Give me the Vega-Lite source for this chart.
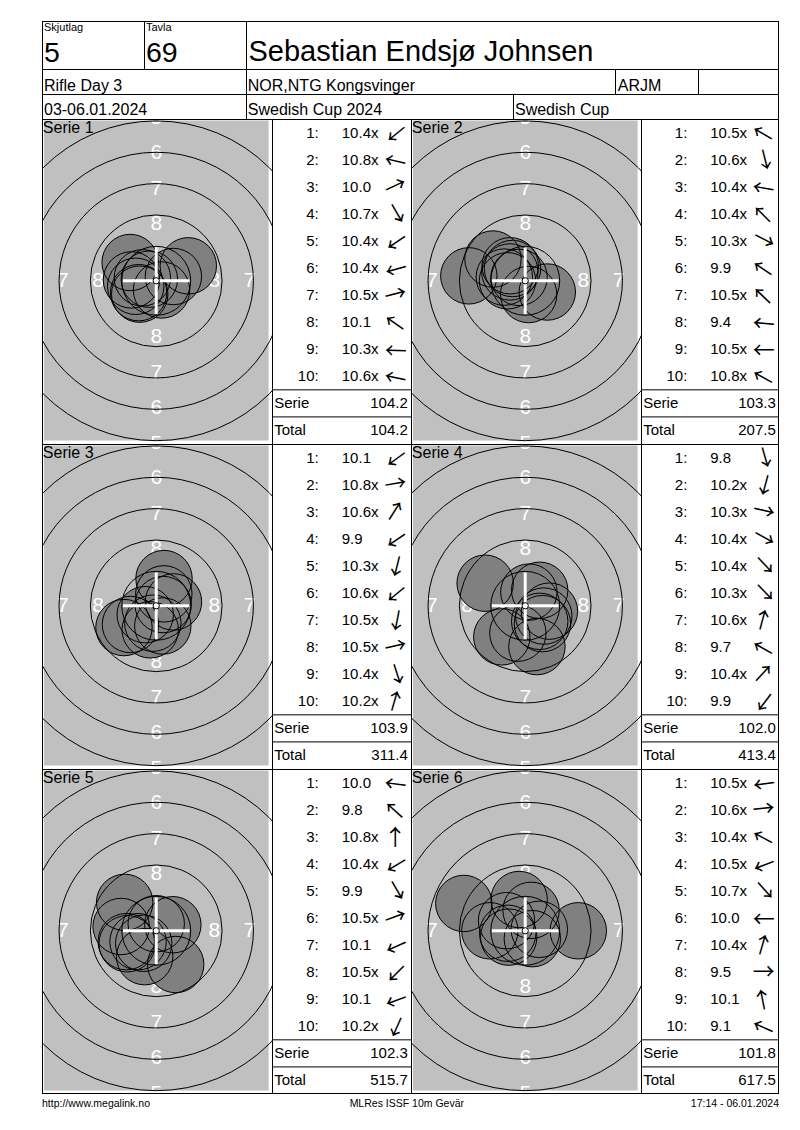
{
"$schema":"https://vega.github.io/schema/vega-lite/v6.json",
"description":"Result card: six series of ten shots on a 10m air rifle target, each with its shot table",
"background":"white",
"padding":{"left":42,"top":21,"right":0,"bottom":0},
"spacing":0,
"config":{"font":"Liberation Sans","view":{"stroke":null},"text":{"color":"black"}},
"datasets":{
"shots":[
{"series":1,"n":1,"score":10.4,"dir":219,"x":-1.166,"y":-0.944},
{"series":1,"n":2,"score":10.8,"dir":167,"x":-0.487,"y":0.112},
{"series":1,"n":3,"score":10.0,"dir":25,"x":2.266,"y":1.057},
{"series":1,"n":4,"score":10.7,"dir":300,"x":0.375,"y":-0.65},
{"series":1,"n":5,"score":10.4,"dir":214,"x":-1.244,"y":-0.839},
{"series":1,"n":6,"score":10.4,"dir":195,"x":-1.449,"y":-0.388},
{"series":1,"n":7,"score":10.5,"dir":14,"x":1.213,"y":0.302},
{"series":1,"n":8,"score":10.1,"dir":145,"x":-1.843,"y":1.291},
{"series":1,"n":9,"score":10.3,"dir":178,"x":-1.749,"y":0.061},
{"series":1,"n":10,"score":10.6,"dir":168,"x":-0.978,"y":0.208},
{"series":2,"n":1,"score":10.5,"dir":150,"x":-1.083,"y":0.625},
{"series":2,"n":2,"score":10.6,"dir":284,"x":0.242,"y":-0.97},
{"series":2,"n":3,"score":10.4,"dir":170,"x":-1.477,"y":0.26},
{"series":2,"n":4,"score":10.4,"dir":135,"x":-1.061,"y":1.061},
{"series":2,"n":5,"score":10.3,"dir":333,"x":1.559,"y":-0.794},
{"series":2,"n":6,"score":9.9,"dir":146,"x":-2.28,"y":1.538},
{"series":2,"n":7,"score":10.5,"dir":136,"x":-0.899,"y":0.868},
{"series":2,"n":8,"score":9.4,"dir":175,"x":-3.985,"y":0.349},
{"series":2,"n":9,"score":10.5,"dir":180,"x":-1.25,"y":0},
{"series":2,"n":10,"score":10.8,"dir":151,"x":-0.437,"y":0.242},
{"series":3,"n":1,"score":10.1,"dir":216,"x":-1.82,"y":-1.323},
{"series":3,"n":2,"score":10.8,"dir":10,"x":0.492,"y":0.087},
{"series":3,"n":3,"score":10.6,"dir":57.5,"x":0.537,"y":0.843},
{"series":3,"n":4,"score":9.9,"dir":214,"x":-2.28,"y":-1.538},
{"series":3,"n":5,"score":10.3,"dir":256,"x":-0.423,"y":-1.698},
{"series":3,"n":6,"score":10.6,"dir":219,"x":-0.777,"y":-0.629},
{"series":3,"n":7,"score":10.5,"dir":259,"x":-0.239,"y":-1.227},
{"series":3,"n":8,"score":10.5,"dir":12.6,"x":1.22,"y":0.273},
{"series":3,"n":9,"score":10.4,"dir":288,"x":0.464,"y":-1.427},
{"series":3,"n":10,"score":10.2,"dir":74,"x":0.551,"y":1.923},
{"series":4,"n":1,"score":9.8,"dir":286,"x":0.827,"y":-2.884},
{"series":4,"n":2,"score":10.2,"dir":255,"x":-0.518,"y":-1.932},
{"series":4,"n":3,"score":10.3,"dir":347.5,"x":1.709,"y":-0.379},
{"series":4,"n":4,"score":10.4,"dir":331,"x":1.312,"y":-0.727},
{"series":4,"n":5,"score":10.4,"dir":313,"x":1.023,"y":-1.097},
{"series":4,"n":6,"score":10.3,"dir":314,"x":1.216,"y":-1.259},
{"series":4,"n":7,"score":10.6,"dir":75,"x":0.259,"y":0.966},
{"series":4,"n":8,"score":9.7,"dir":150.6,"x":-2.831,"y":1.596},
{"series":4,"n":9,"score":10.4,"dir":47,"x":1.023,"y":1.097},
{"series":4,"n":10,"score":9.9,"dir":233,"x":-1.655,"y":-2.196},
{"series":5,"n":1,"score":10.0,"dir":173,"x":-2.481,"y":0.305},
{"series":5,"n":2,"score":9.8,"dir":138,"x":-2.229,"y":2.007},
{"series":5,"n":3,"score":10.8,"dir":90,"x":0,"y":0.5},
{"series":5,"n":4,"score":10.4,"dir":211,"x":-1.286,"y":-0.773},
{"series":5,"n":5,"score":9.9,"dir":300,"x":1.375,"y":-2.382},
{"series":5,"n":6,"score":10.5,"dir":20,"x":1.175,"y":0.428},
{"series":5,"n":7,"score":10.1,"dir":204,"x":-2.055,"y":-0.915},
{"series":5,"n":8,"score":10.5,"dir":225,"x":-0.884,"y":-0.884},
{"series":5,"n":9,"score":10.1,"dir":200,"x":-2.114,"y":-0.77},
{"series":5,"n":10,"score":10.2,"dir":246,"x":-0.813,"y":-1.827},
{"series":6,"n":1,"score":10.5,"dir":188,"x":-1.238,"y":-0.174},
{"series":6,"n":2,"score":10.6,"dir":6,"x":0.995,"y":0.105},
{"series":6,"n":3,"score":10.4,"dir":151.6,"x":-1.32,"y":0.714},
{"series":6,"n":4,"score":10.5,"dir":201,"x":-1.167,"y":-0.448},
{"series":6,"n":5,"score":10.7,"dir":312,"x":0.502,"y":-0.557},
{"series":6,"n":6,"score":10.0,"dir":180,"x":-2.5,"y":0},
{"series":6,"n":7,"score":10.4,"dir":74,"x":0.413,"y":1.442},
{"series":6,"n":8,"score":9.5,"dir":0,"x":3.75,"y":0},
{"series":6,"n":9,"score":10.1,"dir":101,"x":-0.429,"y":2.209},
{"series":6,"n":10,"score":9.1,"dir":156,"x":-4.339,"y":1.932}
],
"rings":[{"ring":9,"r":2.75},{"ring":8,"r":5.25},{"ring":7,"r":7.75},{"ring":6,"r":10.25},{"ring":5,"r":12.75}],
"ringLabels":[
{"label":"8","x":0,"y":4},{"label":"7","x":0,"y":6.5},{"label":"6","x":0,"y":9},{"label":"5","x":0,"y":11.5},
{"label":"8","x":0,"y":-4},{"label":"7","x":0,"y":-6.5},{"label":"6","x":0,"y":-9},{"label":"5","x":0,"y":-11.5},
{"label":"8","x":-4.1,"y":0},{"label":"7","x":-6.6,"y":0},{"label":"8","x":4.1,"y":0},{"label":"7","x":6.6,"y":0}
],
"series":[{"series":1,"title":"Serie 1"},{"series":2,"title":"Serie 2"},{"series":3,"title":"Serie 3"},{"series":4,"title":"Serie 4"},{"series":5,"title":"Serie 5"},{"series":6,"title":"Serie 6"}],
"totals":[
{"series":1,"row":"Serie","value":104.2},{"series":1,"row":"Total","value":104.2},
{"series":2,"row":"Serie","value":103.3},{"series":2,"row":"Total","value":207.5},
{"series":3,"row":"Serie","value":103.9},{"series":3,"row":"Total","value":311.4},
{"series":4,"row":"Serie","value":102.0},{"series":4,"row":"Total","value":413.4},
{"series":5,"row":"Serie","value":102.3},{"series":5,"row":"Total","value":515.7},
{"series":6,"row":"Serie","value":101.8},{"series":6,"row":"Total","value":617.5}
]
},
"vconcat":[
{"hconcat":[
 {"width":102,"height":48,"data":{"values":[{"caption":"Skjutlag","value":"5"}]},"layer":[
  {"mark":{"type":"text","align":"left","baseline":"alphabetic","fontSize":11,"clip":true},"encoding":{"x":{"datum":0.0196,"type":"quantitative","scale":{"domain":[0,1],"nice":false},"axis":null},"y":{"datum":0.215,"type":"quantitative","scale":{"domain":[0,1],"nice":false,"reverse":true},"axis":null},"text":{"field":"caption"}}},
  {"mark":{"type":"text","align":"left","baseline":"alphabetic","fontSize":28.5,"clip":true},"encoding":{"x":{"datum":0.0196,"type":"quantitative","scale":{"domain":[0,1],"nice":false},"axis":null},"y":{"datum":0.85,"type":"quantitative","scale":{"domain":[0,1],"nice":false,"reverse":true},"axis":null},"text":{"field":"value"}}},
  {"mark":{"type":"rule","color":"black","strokeWidth":2,"clip":true},"encoding":{"x":{"datum":0,"type":"quantitative","scale":{"domain":[0,1],"nice":false},"axis":null}}},
  {"mark":{"type":"rule","color":"black","strokeWidth":2,"clip":true},"encoding":{"y":{"datum":0,"type":"quantitative","scale":{"domain":[0,1],"nice":false,"reverse":true},"axis":null}}}
 ]},
 {"width":102,"height":48,"data":{"values":[{"caption":"Tavla","value":"69"}]},"layer":[
  {"mark":{"type":"text","align":"left","baseline":"alphabetic","fontSize":11,"clip":true},"encoding":{"x":{"datum":0.0196,"type":"quantitative","scale":{"domain":[0,1],"nice":false},"axis":null},"y":{"datum":0.215,"type":"quantitative","scale":{"domain":[0,1],"nice":false,"reverse":true},"axis":null},"text":{"field":"caption"}}},
  {"mark":{"type":"text","align":"left","baseline":"alphabetic","fontSize":28.5,"clip":true},"encoding":{"x":{"datum":0.0196,"type":"quantitative","scale":{"domain":[0,1],"nice":false},"axis":null},"y":{"datum":0.85,"type":"quantitative","scale":{"domain":[0,1],"nice":false,"reverse":true},"axis":null},"text":{"field":"value"}}},
  {"mark":{"type":"rule","color":"black","strokeWidth":2,"clip":true},"encoding":{"x":{"datum":0,"type":"quantitative","scale":{"domain":[0,1],"nice":false},"axis":null}}},
  {"mark":{"type":"rule","color":"black","strokeWidth":2,"clip":true},"encoding":{"y":{"datum":0,"type":"quantitative","scale":{"domain":[0,1],"nice":false,"reverse":true},"axis":null}}}
 ]},
 {"width":533,"height":48,"data":{"values":[{"value":"Sebastian Endsjø Johnsen"}]},"layer":[
  {"mark":{"type":"text","align":"left","baseline":"alphabetic","fontSize":29,"clip":true},"encoding":{"x":{"datum":0.0047,"type":"quantitative","scale":{"domain":[0,1],"nice":false},"axis":null},"y":{"datum":0.84,"type":"quantitative","scale":{"domain":[0,1],"nice":false,"reverse":true},"axis":null},"text":{"field":"value"}}},
  {"mark":{"type":"rule","color":"black","strokeWidth":2,"clip":true},"encoding":{"x":{"datum":0,"type":"quantitative","scale":{"domain":[0,1],"nice":false},"axis":null}}},
  {"mark":{"type":"rule","color":"black","strokeWidth":2,"clip":true},"encoding":{"x":{"datum":1,"type":"quantitative","scale":{"domain":[0,1],"nice":false},"axis":null}}},
  {"mark":{"type":"rule","color":"black","strokeWidth":2,"clip":true},"encoding":{"y":{"datum":0,"type":"quantitative","scale":{"domain":[0,1],"nice":false,"reverse":true},"axis":null}}}
 ]}
],"spacing":0,"bounds":"flush"},
{"hconcat":[
 {"width":204,"height":25,"data":{"values":[{"value":"Rifle Day 3"}]},"layer":[
  {"mark":{"type":"text","align":"left","baseline":"alphabetic","fontSize":16,"clip":true},"encoding":{"x":{"datum":0.0098,"type":"quantitative","scale":{"domain":[0,1],"nice":false},"axis":null},"y":{"datum":0.86,"type":"quantitative","scale":{"domain":[0,1],"nice":false,"reverse":true},"axis":null},"text":{"field":"value"}}},
  {"mark":{"type":"rule","color":"black","strokeWidth":2,"clip":true},"encoding":{"x":{"datum":0,"type":"quantitative","scale":{"domain":[0,1],"nice":false},"axis":null}}},
  {"mark":{"type":"rule","color":"black","strokeWidth":2,"clip":true},"encoding":{"y":{"datum":0,"type":"quantitative","scale":{"domain":[0,1],"nice":false,"reverse":true},"axis":null}}}
 ]},
 {"width":369,"height":25,"data":{"values":[{"value":"NOR,NTG Kongsvinger"}]},"layer":[
  {"mark":{"type":"text","align":"left","baseline":"alphabetic","fontSize":16,"clip":true},"encoding":{"x":{"datum":0.0049,"type":"quantitative","scale":{"domain":[0,1],"nice":false},"axis":null},"y":{"datum":0.86,"type":"quantitative","scale":{"domain":[0,1],"nice":false,"reverse":true},"axis":null},"text":{"field":"value"}}},
  {"mark":{"type":"rule","color":"black","strokeWidth":2,"clip":true},"encoding":{"x":{"datum":0,"type":"quantitative","scale":{"domain":[0,1],"nice":false},"axis":null}}},
  {"mark":{"type":"rule","color":"black","strokeWidth":2,"clip":true},"encoding":{"y":{"datum":0,"type":"quantitative","scale":{"domain":[0,1],"nice":false,"reverse":true},"axis":null}}}
 ]},
 {"width":83,"height":25,"data":{"values":[{"value":"ARJM"}]},"layer":[
  {"mark":{"type":"text","align":"left","baseline":"alphabetic","fontSize":16,"clip":true},"encoding":{"x":{"datum":0.034,"type":"quantitative","scale":{"domain":[0,1],"nice":false},"axis":null},"y":{"datum":0.86,"type":"quantitative","scale":{"domain":[0,1],"nice":false,"reverse":true},"axis":null},"text":{"field":"value"}}},
  {"mark":{"type":"rule","color":"black","strokeWidth":2,"clip":true},"encoding":{"x":{"datum":0,"type":"quantitative","scale":{"domain":[0,1],"nice":false},"axis":null}}},
  {"mark":{"type":"rule","color":"black","strokeWidth":2,"clip":true},"encoding":{"y":{"datum":0,"type":"quantitative","scale":{"domain":[0,1],"nice":false,"reverse":true},"axis":null}}}
 ]},
 {"width":81,"height":25,"data":{"values":[{"value":""}]},"layer":[
  {"mark":{"type":"rule","color":"black","strokeWidth":2,"clip":true},"encoding":{"x":{"datum":0,"type":"quantitative","scale":{"domain":[0,1],"nice":false},"axis":null}}},
  {"mark":{"type":"rule","color":"black","strokeWidth":2,"clip":true},"encoding":{"x":{"datum":1,"type":"quantitative","scale":{"domain":[0,1],"nice":false},"axis":null}}},
  {"mark":{"type":"rule","color":"black","strokeWidth":2,"clip":true},"encoding":{"y":{"datum":0,"type":"quantitative","scale":{"domain":[0,1],"nice":false,"reverse":true},"axis":null}}}
 ]}
],"spacing":0,"bounds":"flush"},
{"hconcat":[
 {"width":204,"height":25,"data":{"values":[{"value":"03-06.01.2024"}]},"layer":[
  {"mark":{"type":"text","align":"left","baseline":"alphabetic","fontSize":16,"clip":true},"encoding":{"x":{"datum":0.0098,"type":"quantitative","scale":{"domain":[0,1],"nice":false},"axis":null},"y":{"datum":0.82,"type":"quantitative","scale":{"domain":[0,1],"nice":false,"reverse":true},"axis":null},"text":{"field":"value"}}},
  {"mark":{"type":"rule","color":"black","strokeWidth":2,"clip":true},"encoding":{"x":{"datum":0,"type":"quantitative","scale":{"domain":[0,1],"nice":false},"axis":null}}},
  {"mark":{"type":"rule","color":"black","strokeWidth":2,"clip":true},"encoding":{"y":{"datum":0,"type":"quantitative","scale":{"domain":[0,1],"nice":false,"reverse":true},"axis":null}}}
 ]},
 {"width":267,"height":25,"data":{"values":[{"value":"Swedish Cup 2024"}]},"layer":[
  {"mark":{"type":"text","align":"left","baseline":"alphabetic","fontSize":16,"clip":true},"encoding":{"x":{"datum":0.0067,"type":"quantitative","scale":{"domain":[0,1],"nice":false},"axis":null},"y":{"datum":0.82,"type":"quantitative","scale":{"domain":[0,1],"nice":false,"reverse":true},"axis":null},"text":{"field":"value"}}},
  {"mark":{"type":"rule","color":"black","strokeWidth":2,"clip":true},"encoding":{"x":{"datum":0,"type":"quantitative","scale":{"domain":[0,1],"nice":false},"axis":null}}},
  {"mark":{"type":"rule","color":"black","strokeWidth":2,"clip":true},"encoding":{"y":{"datum":0,"type":"quantitative","scale":{"domain":[0,1],"nice":false,"reverse":true},"axis":null}}}
 ]},
 {"width":266,"height":25,"data":{"values":[{"value":"Swedish Cup"}]},"layer":[
  {"mark":{"type":"text","align":"left","baseline":"alphabetic","fontSize":16,"clip":true},"encoding":{"x":{"datum":0.0075,"type":"quantitative","scale":{"domain":[0,1],"nice":false},"axis":null},"y":{"datum":0.82,"type":"quantitative","scale":{"domain":[0,1],"nice":false,"reverse":true},"axis":null},"text":{"field":"value"}}},
  {"mark":{"type":"rule","color":"black","strokeWidth":2,"clip":true},"encoding":{"x":{"datum":0,"type":"quantitative","scale":{"domain":[0,1],"nice":false},"axis":null}}},
  {"mark":{"type":"rule","color":"black","strokeWidth":2,"clip":true},"encoding":{"x":{"datum":1,"type":"quantitative","scale":{"domain":[0,1],"nice":false},"axis":null}}},
  {"mark":{"type":"rule","color":"black","strokeWidth":2,"clip":true},"encoding":{"y":{"datum":0,"type":"quantitative","scale":{"domain":[0,1],"nice":false,"reverse":true},"axis":null}}}
 ]}
],"spacing":0,"bounds":"flush"},
{"hconcat":[
 {"width":230,"height":325,"layer":[
  {"data":{"values":[{"face":"backing"}]},"mark":{"type":"rect","color":"#c0c0c0"},"encoding":{"x":{"datum":-7.93,"type":"quantitative","scale":{"domain":[-8.07,8.18],"nice":false,"zero":false},"axis":null},"x2":{"datum":7.94},"y":{"datum":-11.29,"type":"quantitative","scale":{"domain":[-11.53,11.43],"nice":false,"zero":false},"axis":null},"y2":{"datum":11.33}}},
  {"data":{"name":"ringLabels"},"mark":{"type":"text","color":"white","fontSize":21,"align":"center","baseline":"middle","clip":true},"encoding":{"x":{"field":"x","type":"quantitative"},"y":{"field":"y","type":"quantitative"},"text":{"field":"label"}}},
  {"data":{"name":"shots"},"transform":[{"filter":"datum.series == 1"}],"mark":{"type":"point","shape":"circle","filled":true,"color":"#808080","opacity":1,"strokeWidth":0,"clip":true},"encoding":{"x":{"field":"x","type":"quantitative"},"y":{"field":"y","type":"quantitative"},"size":{"datum":2.25,"type":"quantitative","scale":{"type":"pow","exponent":2,"domain":[0,10],"range":[0,62902]},"legend":null}}},
  {"data":{"name":"rings"},"mark":{"type":"point","shape":"circle","filled":false,"color":"black","opacity":1,"strokeWidth":1,"clip":true},"encoding":{"x":{"datum":0},"y":{"datum":0},"size":{"field":"r","type":"quantitative","scale":{"type":"pow","exponent":2,"domain":[0,10],"range":[0,62902]},"legend":null}}},
  {"data":{"name":"shots"},"transform":[{"filter":"datum.series == 1"}],"mark":{"type":"point","shape":"circle","filled":false,"color":"black","opacity":1,"strokeWidth":1,"clip":true},"encoding":{"x":{"field":"x","type":"quantitative"},"y":{"field":"y","type":"quantitative"},"size":{"datum":2.25,"type":"quantitative","scale":{"type":"pow","exponent":2,"domain":[0,10],"range":[0,62902]},"legend":null}}},
  {"data":{"values":[{"arm":"horizontal"}]},"mark":{"type":"rule","color":"white","strokeWidth":3},"encoding":{"x":{"datum":-2.35},"x2":{"datum":2.35},"y":{"datum":0}}},
  {"data":{"values":[{"arm":"vertical"}]},"mark":{"type":"rule","color":"white","strokeWidth":3},"encoding":{"x":{"datum":0},"y":{"datum":-2.35},"y2":{"datum":2.35}}},
  {"data":{"values":[{"ring":10,"r":0.25}]},"mark":{"type":"point","shape":"circle","filled":true,"fill":"white","stroke":"black","strokeWidth":1,"opacity":1},"encoding":{"x":{"datum":0},"y":{"datum":0},"size":{"field":"r","type":"quantitative","scale":{"type":"pow","exponent":2,"domain":[0,10],"range":[0,62902]},"legend":null}}},
  {"data":{"name":"series"},"transform":[{"filter":"datum.series == 1"}],"mark":{"type":"text","align":"left","baseline":"alphabetic","fontSize":16,"clip":true},"encoding":{"x":{"datum":-8.01},"y":{"datum":10.41},"text":{"field":"title"}}},
  {"data":{"values":[{"edge":"left"}]},"mark":{"type":"rule","color":"black","strokeWidth":2,"clip":true},"encoding":{"x":{"datum":-8.07}}},
  {"data":{"values":[{"edge":"top"}]},"mark":{"type":"rule","color":"black","strokeWidth":2,"clip":true},"encoding":{"y":{"datum":11.43}}}
 ]},
 {"width":139,"height":325,"layer":[
  {"data":{"name":"shots"},"transform":[{"filter":"datum.series == 1"}],"mark":{"type":"text","align":"right","baseline":"middle","fontSize":15,"clip":true,"text":{"expr":"datum.n + ':'"}},"encoding":{"x":{"datum":0.336,"type":"quantitative","scale":{"domain":[0,1],"nice":false},"axis":null},"y":{"field":"n","type":"ordinal","scale":{"type":"band","domain":[1,2,3,4,5,6,7,8,9,10,"Serie","Total"],"paddingInner":0,"paddingOuter":0},"axis":null}}},
  {"data":{"name":"shots"},"transform":[{"filter":"datum.series == 1"}],"mark":{"type":"text","align":"left","baseline":"middle","fontSize":15,"clip":true,"text":{"expr":"(datum.score < 10 ? '\u00a0' : '') + format(datum.score, '.1f') + (datum.score >= 10.2 ? 'x' : '')"}},"encoding":{"x":{"datum":0.502,"type":"quantitative","scale":{"domain":[0,1],"nice":false},"axis":null},"y":{"field":"n","type":"ordinal","scale":{"type":"band","domain":[1,2,3,4,5,6,7,8,9,10,"Serie","Total"],"paddingInner":0,"paddingOuter":0},"axis":null}}},
  {"data":{"name":"shots"},"transform":[{"filter":"datum.series == 1"}],"mark":{"type":"text","text":"→","font":"Noto Sans CJK JP","align":"center","baseline":"middle","fontSize":22,"clip":true},"encoding":{"x":{"datum":0.89,"type":"quantitative","scale":{"domain":[0,1],"nice":false},"axis":null},"y":{"field":"n","type":"ordinal","scale":{"type":"band","domain":[1,2,3,4,5,6,7,8,9,10,"Serie","Total"],"paddingInner":0,"paddingOuter":0},"axis":null},"angle":{"field":"dir","type":"quantitative","scale":{"domain":[0,360],"range":[360,0]},"legend":null}}},
  {"data":{"name":"totals"},"transform":[{"filter":"datum.series == 1"}],"mark":{"type":"text","align":"left","baseline":"middle","fontSize":15,"clip":true},"encoding":{"x":{"datum":0.016,"type":"quantitative","scale":{"domain":[0,1],"nice":false},"axis":null},"y":{"field":"row","type":"ordinal","scale":{"type":"band","domain":[1,2,3,4,5,6,7,8,9,10,"Serie","Total"],"paddingInner":0,"paddingOuter":0},"axis":null},"text":{"field":"row"}}},
  {"data":{"name":"totals"},"transform":[{"filter":"datum.series == 1"}],"mark":{"type":"text","align":"right","baseline":"middle","fontSize":15,"clip":true},"encoding":{"x":{"datum":0.977,"type":"quantitative","scale":{"domain":[0,1],"nice":false},"axis":null},"y":{"field":"row","type":"ordinal","scale":{"type":"band","domain":[1,2,3,4,5,6,7,8,9,10,"Serie","Total"],"paddingInner":0,"paddingOuter":0},"axis":null},"text":{"field":"value","format":".1f"}}},
  {"data":{"name":"totals"},"transform":[{"filter":"datum.series == 1"}],"mark":{"type":"rule","color":"black","strokeWidth":1,"clip":true},"encoding":{"y":{"field":"row","type":"ordinal","bandPosition":0,"scale":{"type":"band","domain":[1,2,3,4,5,6,7,8,9,10,"Serie","Total"],"paddingInner":0,"paddingOuter":0},"axis":null}}},
  {"data":{"values":[{"edge":"left"}]},"mark":{"type":"rule","color":"black","strokeWidth":2,"clip":true},"encoding":{"x":{"datum":0,"type":"quantitative","scale":{"domain":[0,1],"nice":false},"axis":null}}},
  {"data":{"values":[{"n":1}]},"mark":{"type":"rule","color":"black","strokeWidth":2,"clip":true},"encoding":{"y":{"field":"n","type":"ordinal","bandPosition":0,"scale":{"type":"band","domain":[1,2,3,4,5,6,7,8,9,10,"Serie","Total"],"paddingInner":0,"paddingOuter":0},"axis":null}}}
 ]},
 {"width":230,"height":325,"layer":[
  {"data":{"values":[{"face":"backing"}]},"mark":{"type":"rect","color":"#c0c0c0"},"encoding":{"x":{"datum":-7.93,"type":"quantitative","scale":{"domain":[-8.07,8.18],"nice":false,"zero":false},"axis":null},"x2":{"datum":7.94},"y":{"datum":-11.29,"type":"quantitative","scale":{"domain":[-11.53,11.43],"nice":false,"zero":false},"axis":null},"y2":{"datum":11.33}}},
  {"data":{"name":"ringLabels"},"mark":{"type":"text","color":"white","fontSize":21,"align":"center","baseline":"middle","clip":true},"encoding":{"x":{"field":"x","type":"quantitative"},"y":{"field":"y","type":"quantitative"},"text":{"field":"label"}}},
  {"data":{"name":"shots"},"transform":[{"filter":"datum.series == 2"}],"mark":{"type":"point","shape":"circle","filled":true,"color":"#808080","opacity":1,"strokeWidth":0,"clip":true},"encoding":{"x":{"field":"x","type":"quantitative"},"y":{"field":"y","type":"quantitative"},"size":{"datum":2.25,"type":"quantitative","scale":{"type":"pow","exponent":2,"domain":[0,10],"range":[0,62902]},"legend":null}}},
  {"data":{"name":"rings"},"mark":{"type":"point","shape":"circle","filled":false,"color":"black","opacity":1,"strokeWidth":1,"clip":true},"encoding":{"x":{"datum":0},"y":{"datum":0},"size":{"field":"r","type":"quantitative","scale":{"type":"pow","exponent":2,"domain":[0,10],"range":[0,62902]},"legend":null}}},
  {"data":{"name":"shots"},"transform":[{"filter":"datum.series == 2"}],"mark":{"type":"point","shape":"circle","filled":false,"color":"black","opacity":1,"strokeWidth":1,"clip":true},"encoding":{"x":{"field":"x","type":"quantitative"},"y":{"field":"y","type":"quantitative"},"size":{"datum":2.25,"type":"quantitative","scale":{"type":"pow","exponent":2,"domain":[0,10],"range":[0,62902]},"legend":null}}},
  {"data":{"values":[{"arm":"horizontal"}]},"mark":{"type":"rule","color":"white","strokeWidth":3},"encoding":{"x":{"datum":-2.35},"x2":{"datum":2.35},"y":{"datum":0}}},
  {"data":{"values":[{"arm":"vertical"}]},"mark":{"type":"rule","color":"white","strokeWidth":3},"encoding":{"x":{"datum":0},"y":{"datum":-2.35},"y2":{"datum":2.35}}},
  {"data":{"values":[{"ring":10,"r":0.25}]},"mark":{"type":"point","shape":"circle","filled":true,"fill":"white","stroke":"black","strokeWidth":1,"opacity":1},"encoding":{"x":{"datum":0},"y":{"datum":0},"size":{"field":"r","type":"quantitative","scale":{"type":"pow","exponent":2,"domain":[0,10],"range":[0,62902]},"legend":null}}},
  {"data":{"name":"series"},"transform":[{"filter":"datum.series == 2"}],"mark":{"type":"text","align":"left","baseline":"alphabetic","fontSize":16,"clip":true},"encoding":{"x":{"datum":-8.01},"y":{"datum":10.41},"text":{"field":"title"}}},
  {"data":{"values":[{"edge":"left"}]},"mark":{"type":"rule","color":"black","strokeWidth":2,"clip":true},"encoding":{"x":{"datum":-8.07}}},
  {"data":{"values":[{"edge":"top"}]},"mark":{"type":"rule","color":"black","strokeWidth":2,"clip":true},"encoding":{"y":{"datum":11.43}}}
 ]},
 {"width":138,"height":325,"layer":[
  {"data":{"name":"shots"},"transform":[{"filter":"datum.series == 2"}],"mark":{"type":"text","align":"right","baseline":"middle","fontSize":15,"clip":true,"text":{"expr":"datum.n + ':'"}},"encoding":{"x":{"datum":0.336,"type":"quantitative","scale":{"domain":[0,1],"nice":false},"axis":null},"y":{"field":"n","type":"ordinal","scale":{"type":"band","domain":[1,2,3,4,5,6,7,8,9,10,"Serie","Total"],"paddingInner":0,"paddingOuter":0},"axis":null}}},
  {"data":{"name":"shots"},"transform":[{"filter":"datum.series == 2"}],"mark":{"type":"text","align":"left","baseline":"middle","fontSize":15,"clip":true,"text":{"expr":"(datum.score < 10 ? '\u00a0' : '') + format(datum.score, '.1f') + (datum.score >= 10.2 ? 'x' : '')"}},"encoding":{"x":{"datum":0.502,"type":"quantitative","scale":{"domain":[0,1],"nice":false},"axis":null},"y":{"field":"n","type":"ordinal","scale":{"type":"band","domain":[1,2,3,4,5,6,7,8,9,10,"Serie","Total"],"paddingInner":0,"paddingOuter":0},"axis":null}}},
  {"data":{"name":"shots"},"transform":[{"filter":"datum.series == 2"}],"mark":{"type":"text","text":"→","font":"Noto Sans CJK JP","align":"center","baseline":"middle","fontSize":22,"clip":true},"encoding":{"x":{"datum":0.89,"type":"quantitative","scale":{"domain":[0,1],"nice":false},"axis":null},"y":{"field":"n","type":"ordinal","scale":{"type":"band","domain":[1,2,3,4,5,6,7,8,9,10,"Serie","Total"],"paddingInner":0,"paddingOuter":0},"axis":null},"angle":{"field":"dir","type":"quantitative","scale":{"domain":[0,360],"range":[360,0]},"legend":null}}},
  {"data":{"name":"totals"},"transform":[{"filter":"datum.series == 2"}],"mark":{"type":"text","align":"left","baseline":"middle","fontSize":15,"clip":true},"encoding":{"x":{"datum":0.016,"type":"quantitative","scale":{"domain":[0,1],"nice":false},"axis":null},"y":{"field":"row","type":"ordinal","scale":{"type":"band","domain":[1,2,3,4,5,6,7,8,9,10,"Serie","Total"],"paddingInner":0,"paddingOuter":0},"axis":null},"text":{"field":"row"}}},
  {"data":{"name":"totals"},"transform":[{"filter":"datum.series == 2"}],"mark":{"type":"text","align":"right","baseline":"middle","fontSize":15,"clip":true},"encoding":{"x":{"datum":0.977,"type":"quantitative","scale":{"domain":[0,1],"nice":false},"axis":null},"y":{"field":"row","type":"ordinal","scale":{"type":"band","domain":[1,2,3,4,5,6,7,8,9,10,"Serie","Total"],"paddingInner":0,"paddingOuter":0},"axis":null},"text":{"field":"value","format":".1f"}}},
  {"data":{"name":"totals"},"transform":[{"filter":"datum.series == 2"}],"mark":{"type":"rule","color":"black","strokeWidth":1,"clip":true},"encoding":{"y":{"field":"row","type":"ordinal","bandPosition":0,"scale":{"type":"band","domain":[1,2,3,4,5,6,7,8,9,10,"Serie","Total"],"paddingInner":0,"paddingOuter":0},"axis":null}}},
  {"data":{"values":[{"edge":"left"}]},"mark":{"type":"rule","color":"black","strokeWidth":2,"clip":true},"encoding":{"x":{"datum":0,"type":"quantitative","scale":{"domain":[0,1],"nice":false},"axis":null}}},
  {"data":{"values":[{"edge":"right"}]},"mark":{"type":"rule","color":"black","strokeWidth":2,"clip":true},"encoding":{"x":{"datum":1,"type":"quantitative","scale":{"domain":[0,1],"nice":false},"axis":null}}},
  {"data":{"values":[{"n":1}]},"mark":{"type":"rule","color":"black","strokeWidth":2,"clip":true},"encoding":{"y":{"field":"n","type":"ordinal","bandPosition":0,"scale":{"type":"band","domain":[1,2,3,4,5,6,7,8,9,10,"Serie","Total"],"paddingInner":0,"paddingOuter":0},"axis":null}}}
 ]}
],"spacing":0,"bounds":"flush"},
{"hconcat":[
 {"width":230,"height":325,"layer":[
  {"data":{"values":[{"face":"backing"}]},"mark":{"type":"rect","color":"#c0c0c0"},"encoding":{"x":{"datum":-7.93,"type":"quantitative","scale":{"domain":[-8.07,8.18],"nice":false,"zero":false},"axis":null},"x2":{"datum":7.94},"y":{"datum":-11.29,"type":"quantitative","scale":{"domain":[-11.53,11.43],"nice":false,"zero":false},"axis":null},"y2":{"datum":11.33}}},
  {"data":{"name":"ringLabels"},"mark":{"type":"text","color":"white","fontSize":21,"align":"center","baseline":"middle","clip":true},"encoding":{"x":{"field":"x","type":"quantitative"},"y":{"field":"y","type":"quantitative"},"text":{"field":"label"}}},
  {"data":{"name":"shots"},"transform":[{"filter":"datum.series == 3"}],"mark":{"type":"point","shape":"circle","filled":true,"color":"#808080","opacity":1,"strokeWidth":0,"clip":true},"encoding":{"x":{"field":"x","type":"quantitative"},"y":{"field":"y","type":"quantitative"},"size":{"datum":2.25,"type":"quantitative","scale":{"type":"pow","exponent":2,"domain":[0,10],"range":[0,62902]},"legend":null}}},
  {"data":{"name":"rings"},"mark":{"type":"point","shape":"circle","filled":false,"color":"black","opacity":1,"strokeWidth":1,"clip":true},"encoding":{"x":{"datum":0},"y":{"datum":0},"size":{"field":"r","type":"quantitative","scale":{"type":"pow","exponent":2,"domain":[0,10],"range":[0,62902]},"legend":null}}},
  {"data":{"name":"shots"},"transform":[{"filter":"datum.series == 3"}],"mark":{"type":"point","shape":"circle","filled":false,"color":"black","opacity":1,"strokeWidth":1,"clip":true},"encoding":{"x":{"field":"x","type":"quantitative"},"y":{"field":"y","type":"quantitative"},"size":{"datum":2.25,"type":"quantitative","scale":{"type":"pow","exponent":2,"domain":[0,10],"range":[0,62902]},"legend":null}}},
  {"data":{"values":[{"arm":"horizontal"}]},"mark":{"type":"rule","color":"white","strokeWidth":3},"encoding":{"x":{"datum":-2.35},"x2":{"datum":2.35},"y":{"datum":0}}},
  {"data":{"values":[{"arm":"vertical"}]},"mark":{"type":"rule","color":"white","strokeWidth":3},"encoding":{"x":{"datum":0},"y":{"datum":-2.35},"y2":{"datum":2.35}}},
  {"data":{"values":[{"ring":10,"r":0.25}]},"mark":{"type":"point","shape":"circle","filled":true,"fill":"white","stroke":"black","strokeWidth":1,"opacity":1},"encoding":{"x":{"datum":0},"y":{"datum":0},"size":{"field":"r","type":"quantitative","scale":{"type":"pow","exponent":2,"domain":[0,10],"range":[0,62902]},"legend":null}}},
  {"data":{"name":"series"},"transform":[{"filter":"datum.series == 3"}],"mark":{"type":"text","align":"left","baseline":"alphabetic","fontSize":16,"clip":true},"encoding":{"x":{"datum":-8.01},"y":{"datum":10.41},"text":{"field":"title"}}},
  {"data":{"values":[{"edge":"left"}]},"mark":{"type":"rule","color":"black","strokeWidth":2,"clip":true},"encoding":{"x":{"datum":-8.07}}},
  {"data":{"values":[{"edge":"top"}]},"mark":{"type":"rule","color":"black","strokeWidth":2,"clip":true},"encoding":{"y":{"datum":11.43}}}
 ]},
 {"width":139,"height":325,"layer":[
  {"data":{"name":"shots"},"transform":[{"filter":"datum.series == 3"}],"mark":{"type":"text","align":"right","baseline":"middle","fontSize":15,"clip":true,"text":{"expr":"datum.n + ':'"}},"encoding":{"x":{"datum":0.336,"type":"quantitative","scale":{"domain":[0,1],"nice":false},"axis":null},"y":{"field":"n","type":"ordinal","scale":{"type":"band","domain":[1,2,3,4,5,6,7,8,9,10,"Serie","Total"],"paddingInner":0,"paddingOuter":0},"axis":null}}},
  {"data":{"name":"shots"},"transform":[{"filter":"datum.series == 3"}],"mark":{"type":"text","align":"left","baseline":"middle","fontSize":15,"clip":true,"text":{"expr":"(datum.score < 10 ? '\u00a0' : '') + format(datum.score, '.1f') + (datum.score >= 10.2 ? 'x' : '')"}},"encoding":{"x":{"datum":0.502,"type":"quantitative","scale":{"domain":[0,1],"nice":false},"axis":null},"y":{"field":"n","type":"ordinal","scale":{"type":"band","domain":[1,2,3,4,5,6,7,8,9,10,"Serie","Total"],"paddingInner":0,"paddingOuter":0},"axis":null}}},
  {"data":{"name":"shots"},"transform":[{"filter":"datum.series == 3"}],"mark":{"type":"text","text":"→","font":"Noto Sans CJK JP","align":"center","baseline":"middle","fontSize":22,"clip":true},"encoding":{"x":{"datum":0.89,"type":"quantitative","scale":{"domain":[0,1],"nice":false},"axis":null},"y":{"field":"n","type":"ordinal","scale":{"type":"band","domain":[1,2,3,4,5,6,7,8,9,10,"Serie","Total"],"paddingInner":0,"paddingOuter":0},"axis":null},"angle":{"field":"dir","type":"quantitative","scale":{"domain":[0,360],"range":[360,0]},"legend":null}}},
  {"data":{"name":"totals"},"transform":[{"filter":"datum.series == 3"}],"mark":{"type":"text","align":"left","baseline":"middle","fontSize":15,"clip":true},"encoding":{"x":{"datum":0.016,"type":"quantitative","scale":{"domain":[0,1],"nice":false},"axis":null},"y":{"field":"row","type":"ordinal","scale":{"type":"band","domain":[1,2,3,4,5,6,7,8,9,10,"Serie","Total"],"paddingInner":0,"paddingOuter":0},"axis":null},"text":{"field":"row"}}},
  {"data":{"name":"totals"},"transform":[{"filter":"datum.series == 3"}],"mark":{"type":"text","align":"right","baseline":"middle","fontSize":15,"clip":true},"encoding":{"x":{"datum":0.977,"type":"quantitative","scale":{"domain":[0,1],"nice":false},"axis":null},"y":{"field":"row","type":"ordinal","scale":{"type":"band","domain":[1,2,3,4,5,6,7,8,9,10,"Serie","Total"],"paddingInner":0,"paddingOuter":0},"axis":null},"text":{"field":"value","format":".1f"}}},
  {"data":{"name":"totals"},"transform":[{"filter":"datum.series == 3"}],"mark":{"type":"rule","color":"black","strokeWidth":1,"clip":true},"encoding":{"y":{"field":"row","type":"ordinal","bandPosition":0,"scale":{"type":"band","domain":[1,2,3,4,5,6,7,8,9,10,"Serie","Total"],"paddingInner":0,"paddingOuter":0},"axis":null}}},
  {"data":{"values":[{"edge":"left"}]},"mark":{"type":"rule","color":"black","strokeWidth":2,"clip":true},"encoding":{"x":{"datum":0,"type":"quantitative","scale":{"domain":[0,1],"nice":false},"axis":null}}},
  {"data":{"values":[{"n":1}]},"mark":{"type":"rule","color":"black","strokeWidth":2,"clip":true},"encoding":{"y":{"field":"n","type":"ordinal","bandPosition":0,"scale":{"type":"band","domain":[1,2,3,4,5,6,7,8,9,10,"Serie","Total"],"paddingInner":0,"paddingOuter":0},"axis":null}}}
 ]},
 {"width":230,"height":325,"layer":[
  {"data":{"values":[{"face":"backing"}]},"mark":{"type":"rect","color":"#c0c0c0"},"encoding":{"x":{"datum":-7.93,"type":"quantitative","scale":{"domain":[-8.07,8.18],"nice":false,"zero":false},"axis":null},"x2":{"datum":7.94},"y":{"datum":-11.29,"type":"quantitative","scale":{"domain":[-11.53,11.43],"nice":false,"zero":false},"axis":null},"y2":{"datum":11.33}}},
  {"data":{"name":"ringLabels"},"mark":{"type":"text","color":"white","fontSize":21,"align":"center","baseline":"middle","clip":true},"encoding":{"x":{"field":"x","type":"quantitative"},"y":{"field":"y","type":"quantitative"},"text":{"field":"label"}}},
  {"data":{"name":"shots"},"transform":[{"filter":"datum.series == 4"}],"mark":{"type":"point","shape":"circle","filled":true,"color":"#808080","opacity":1,"strokeWidth":0,"clip":true},"encoding":{"x":{"field":"x","type":"quantitative"},"y":{"field":"y","type":"quantitative"},"size":{"datum":2.25,"type":"quantitative","scale":{"type":"pow","exponent":2,"domain":[0,10],"range":[0,62902]},"legend":null}}},
  {"data":{"name":"rings"},"mark":{"type":"point","shape":"circle","filled":false,"color":"black","opacity":1,"strokeWidth":1,"clip":true},"encoding":{"x":{"datum":0},"y":{"datum":0},"size":{"field":"r","type":"quantitative","scale":{"type":"pow","exponent":2,"domain":[0,10],"range":[0,62902]},"legend":null}}},
  {"data":{"name":"shots"},"transform":[{"filter":"datum.series == 4"}],"mark":{"type":"point","shape":"circle","filled":false,"color":"black","opacity":1,"strokeWidth":1,"clip":true},"encoding":{"x":{"field":"x","type":"quantitative"},"y":{"field":"y","type":"quantitative"},"size":{"datum":2.25,"type":"quantitative","scale":{"type":"pow","exponent":2,"domain":[0,10],"range":[0,62902]},"legend":null}}},
  {"data":{"values":[{"arm":"horizontal"}]},"mark":{"type":"rule","color":"white","strokeWidth":3},"encoding":{"x":{"datum":-2.35},"x2":{"datum":2.35},"y":{"datum":0}}},
  {"data":{"values":[{"arm":"vertical"}]},"mark":{"type":"rule","color":"white","strokeWidth":3},"encoding":{"x":{"datum":0},"y":{"datum":-2.35},"y2":{"datum":2.35}}},
  {"data":{"values":[{"ring":10,"r":0.25}]},"mark":{"type":"point","shape":"circle","filled":true,"fill":"white","stroke":"black","strokeWidth":1,"opacity":1},"encoding":{"x":{"datum":0},"y":{"datum":0},"size":{"field":"r","type":"quantitative","scale":{"type":"pow","exponent":2,"domain":[0,10],"range":[0,62902]},"legend":null}}},
  {"data":{"name":"series"},"transform":[{"filter":"datum.series == 4"}],"mark":{"type":"text","align":"left","baseline":"alphabetic","fontSize":16,"clip":true},"encoding":{"x":{"datum":-8.01},"y":{"datum":10.41},"text":{"field":"title"}}},
  {"data":{"values":[{"edge":"left"}]},"mark":{"type":"rule","color":"black","strokeWidth":2,"clip":true},"encoding":{"x":{"datum":-8.07}}},
  {"data":{"values":[{"edge":"top"}]},"mark":{"type":"rule","color":"black","strokeWidth":2,"clip":true},"encoding":{"y":{"datum":11.43}}}
 ]},
 {"width":138,"height":325,"layer":[
  {"data":{"name":"shots"},"transform":[{"filter":"datum.series == 4"}],"mark":{"type":"text","align":"right","baseline":"middle","fontSize":15,"clip":true,"text":{"expr":"datum.n + ':'"}},"encoding":{"x":{"datum":0.336,"type":"quantitative","scale":{"domain":[0,1],"nice":false},"axis":null},"y":{"field":"n","type":"ordinal","scale":{"type":"band","domain":[1,2,3,4,5,6,7,8,9,10,"Serie","Total"],"paddingInner":0,"paddingOuter":0},"axis":null}}},
  {"data":{"name":"shots"},"transform":[{"filter":"datum.series == 4"}],"mark":{"type":"text","align":"left","baseline":"middle","fontSize":15,"clip":true,"text":{"expr":"(datum.score < 10 ? '\u00a0' : '') + format(datum.score, '.1f') + (datum.score >= 10.2 ? 'x' : '')"}},"encoding":{"x":{"datum":0.502,"type":"quantitative","scale":{"domain":[0,1],"nice":false},"axis":null},"y":{"field":"n","type":"ordinal","scale":{"type":"band","domain":[1,2,3,4,5,6,7,8,9,10,"Serie","Total"],"paddingInner":0,"paddingOuter":0},"axis":null}}},
  {"data":{"name":"shots"},"transform":[{"filter":"datum.series == 4"}],"mark":{"type":"text","text":"→","font":"Noto Sans CJK JP","align":"center","baseline":"middle","fontSize":22,"clip":true},"encoding":{"x":{"datum":0.89,"type":"quantitative","scale":{"domain":[0,1],"nice":false},"axis":null},"y":{"field":"n","type":"ordinal","scale":{"type":"band","domain":[1,2,3,4,5,6,7,8,9,10,"Serie","Total"],"paddingInner":0,"paddingOuter":0},"axis":null},"angle":{"field":"dir","type":"quantitative","scale":{"domain":[0,360],"range":[360,0]},"legend":null}}},
  {"data":{"name":"totals"},"transform":[{"filter":"datum.series == 4"}],"mark":{"type":"text","align":"left","baseline":"middle","fontSize":15,"clip":true},"encoding":{"x":{"datum":0.016,"type":"quantitative","scale":{"domain":[0,1],"nice":false},"axis":null},"y":{"field":"row","type":"ordinal","scale":{"type":"band","domain":[1,2,3,4,5,6,7,8,9,10,"Serie","Total"],"paddingInner":0,"paddingOuter":0},"axis":null},"text":{"field":"row"}}},
  {"data":{"name":"totals"},"transform":[{"filter":"datum.series == 4"}],"mark":{"type":"text","align":"right","baseline":"middle","fontSize":15,"clip":true},"encoding":{"x":{"datum":0.977,"type":"quantitative","scale":{"domain":[0,1],"nice":false},"axis":null},"y":{"field":"row","type":"ordinal","scale":{"type":"band","domain":[1,2,3,4,5,6,7,8,9,10,"Serie","Total"],"paddingInner":0,"paddingOuter":0},"axis":null},"text":{"field":"value","format":".1f"}}},
  {"data":{"name":"totals"},"transform":[{"filter":"datum.series == 4"}],"mark":{"type":"rule","color":"black","strokeWidth":1,"clip":true},"encoding":{"y":{"field":"row","type":"ordinal","bandPosition":0,"scale":{"type":"band","domain":[1,2,3,4,5,6,7,8,9,10,"Serie","Total"],"paddingInner":0,"paddingOuter":0},"axis":null}}},
  {"data":{"values":[{"edge":"left"}]},"mark":{"type":"rule","color":"black","strokeWidth":2,"clip":true},"encoding":{"x":{"datum":0,"type":"quantitative","scale":{"domain":[0,1],"nice":false},"axis":null}}},
  {"data":{"values":[{"edge":"right"}]},"mark":{"type":"rule","color":"black","strokeWidth":2,"clip":true},"encoding":{"x":{"datum":1,"type":"quantitative","scale":{"domain":[0,1],"nice":false},"axis":null}}},
  {"data":{"values":[{"n":1}]},"mark":{"type":"rule","color":"black","strokeWidth":2,"clip":true},"encoding":{"y":{"field":"n","type":"ordinal","bandPosition":0,"scale":{"type":"band","domain":[1,2,3,4,5,6,7,8,9,10,"Serie","Total"],"paddingInner":0,"paddingOuter":0},"axis":null}}}
 ]}
],"spacing":0,"bounds":"flush"},
{"hconcat":[
 {"width":230,"height":325,"layer":[
  {"data":{"values":[{"face":"backing"}]},"mark":{"type":"rect","color":"#c0c0c0"},"encoding":{"x":{"datum":-7.93,"type":"quantitative","scale":{"domain":[-8.07,8.18],"nice":false,"zero":false},"axis":null},"x2":{"datum":7.94},"y":{"datum":-11.29,"type":"quantitative","scale":{"domain":[-11.53,11.43],"nice":false,"zero":false},"axis":null},"y2":{"datum":11.33}}},
  {"data":{"name":"ringLabels"},"mark":{"type":"text","color":"white","fontSize":21,"align":"center","baseline":"middle","clip":true},"encoding":{"x":{"field":"x","type":"quantitative"},"y":{"field":"y","type":"quantitative"},"text":{"field":"label"}}},
  {"data":{"name":"shots"},"transform":[{"filter":"datum.series == 5"}],"mark":{"type":"point","shape":"circle","filled":true,"color":"#808080","opacity":1,"strokeWidth":0,"clip":true},"encoding":{"x":{"field":"x","type":"quantitative"},"y":{"field":"y","type":"quantitative"},"size":{"datum":2.25,"type":"quantitative","scale":{"type":"pow","exponent":2,"domain":[0,10],"range":[0,62902]},"legend":null}}},
  {"data":{"name":"rings"},"mark":{"type":"point","shape":"circle","filled":false,"color":"black","opacity":1,"strokeWidth":1,"clip":true},"encoding":{"x":{"datum":0},"y":{"datum":0},"size":{"field":"r","type":"quantitative","scale":{"type":"pow","exponent":2,"domain":[0,10],"range":[0,62902]},"legend":null}}},
  {"data":{"name":"shots"},"transform":[{"filter":"datum.series == 5"}],"mark":{"type":"point","shape":"circle","filled":false,"color":"black","opacity":1,"strokeWidth":1,"clip":true},"encoding":{"x":{"field":"x","type":"quantitative"},"y":{"field":"y","type":"quantitative"},"size":{"datum":2.25,"type":"quantitative","scale":{"type":"pow","exponent":2,"domain":[0,10],"range":[0,62902]},"legend":null}}},
  {"data":{"values":[{"arm":"horizontal"}]},"mark":{"type":"rule","color":"white","strokeWidth":3},"encoding":{"x":{"datum":-2.35},"x2":{"datum":2.35},"y":{"datum":0}}},
  {"data":{"values":[{"arm":"vertical"}]},"mark":{"type":"rule","color":"white","strokeWidth":3},"encoding":{"x":{"datum":0},"y":{"datum":-2.35},"y2":{"datum":2.35}}},
  {"data":{"values":[{"ring":10,"r":0.25}]},"mark":{"type":"point","shape":"circle","filled":true,"fill":"white","stroke":"black","strokeWidth":1,"opacity":1},"encoding":{"x":{"datum":0},"y":{"datum":0},"size":{"field":"r","type":"quantitative","scale":{"type":"pow","exponent":2,"domain":[0,10],"range":[0,62902]},"legend":null}}},
  {"data":{"name":"series"},"transform":[{"filter":"datum.series == 5"}],"mark":{"type":"text","align":"left","baseline":"alphabetic","fontSize":16,"clip":true},"encoding":{"x":{"datum":-8.01},"y":{"datum":10.41},"text":{"field":"title"}}},
  {"data":{"values":[{"edge":"left"}]},"mark":{"type":"rule","color":"black","strokeWidth":2,"clip":true},"encoding":{"x":{"datum":-8.07}}},
  {"data":{"values":[{"edge":"top"}]},"mark":{"type":"rule","color":"black","strokeWidth":2,"clip":true},"encoding":{"y":{"datum":11.43}}},
  {"data":{"values":[{"edge":"bottom"}]},"mark":{"type":"rule","color":"black","strokeWidth":2,"clip":true},"encoding":{"y":{"datum":-11.53}}}
 ]},
 {"width":139,"height":325,"layer":[
  {"data":{"name":"shots"},"transform":[{"filter":"datum.series == 5"}],"mark":{"type":"text","align":"right","baseline":"middle","fontSize":15,"clip":true,"text":{"expr":"datum.n + ':'"}},"encoding":{"x":{"datum":0.336,"type":"quantitative","scale":{"domain":[0,1],"nice":false},"axis":null},"y":{"field":"n","type":"ordinal","scale":{"type":"band","domain":[1,2,3,4,5,6,7,8,9,10,"Serie","Total"],"paddingInner":0,"paddingOuter":0},"axis":null}}},
  {"data":{"name":"shots"},"transform":[{"filter":"datum.series == 5"}],"mark":{"type":"text","align":"left","baseline":"middle","fontSize":15,"clip":true,"text":{"expr":"(datum.score < 10 ? '\u00a0' : '') + format(datum.score, '.1f') + (datum.score >= 10.2 ? 'x' : '')"}},"encoding":{"x":{"datum":0.502,"type":"quantitative","scale":{"domain":[0,1],"nice":false},"axis":null},"y":{"field":"n","type":"ordinal","scale":{"type":"band","domain":[1,2,3,4,5,6,7,8,9,10,"Serie","Total"],"paddingInner":0,"paddingOuter":0},"axis":null}}},
  {"data":{"name":"shots"},"transform":[{"filter":"datum.series == 5"}],"mark":{"type":"text","text":"→","font":"Noto Sans CJK JP","align":"center","baseline":"middle","fontSize":22,"clip":true},"encoding":{"x":{"datum":0.89,"type":"quantitative","scale":{"domain":[0,1],"nice":false},"axis":null},"y":{"field":"n","type":"ordinal","scale":{"type":"band","domain":[1,2,3,4,5,6,7,8,9,10,"Serie","Total"],"paddingInner":0,"paddingOuter":0},"axis":null},"angle":{"field":"dir","type":"quantitative","scale":{"domain":[0,360],"range":[360,0]},"legend":null}}},
  {"data":{"name":"totals"},"transform":[{"filter":"datum.series == 5"}],"mark":{"type":"text","align":"left","baseline":"middle","fontSize":15,"clip":true},"encoding":{"x":{"datum":0.016,"type":"quantitative","scale":{"domain":[0,1],"nice":false},"axis":null},"y":{"field":"row","type":"ordinal","scale":{"type":"band","domain":[1,2,3,4,5,6,7,8,9,10,"Serie","Total"],"paddingInner":0,"paddingOuter":0},"axis":null},"text":{"field":"row"}}},
  {"data":{"name":"totals"},"transform":[{"filter":"datum.series == 5"}],"mark":{"type":"text","align":"right","baseline":"middle","fontSize":15,"clip":true},"encoding":{"x":{"datum":0.977,"type":"quantitative","scale":{"domain":[0,1],"nice":false},"axis":null},"y":{"field":"row","type":"ordinal","scale":{"type":"band","domain":[1,2,3,4,5,6,7,8,9,10,"Serie","Total"],"paddingInner":0,"paddingOuter":0},"axis":null},"text":{"field":"value","format":".1f"}}},
  {"data":{"name":"totals"},"transform":[{"filter":"datum.series == 5"}],"mark":{"type":"rule","color":"black","strokeWidth":1,"clip":true},"encoding":{"y":{"field":"row","type":"ordinal","bandPosition":0,"scale":{"type":"band","domain":[1,2,3,4,5,6,7,8,9,10,"Serie","Total"],"paddingInner":0,"paddingOuter":0},"axis":null}}},
  {"data":{"values":[{"edge":"left"}]},"mark":{"type":"rule","color":"black","strokeWidth":2,"clip":true},"encoding":{"x":{"datum":0,"type":"quantitative","scale":{"domain":[0,1],"nice":false},"axis":null}}},
  {"data":{"values":[{"n":1}]},"mark":{"type":"rule","color":"black","strokeWidth":2,"clip":true},"encoding":{"y":{"field":"n","type":"ordinal","bandPosition":0,"scale":{"type":"band","domain":[1,2,3,4,5,6,7,8,9,10,"Serie","Total"],"paddingInner":0,"paddingOuter":0},"axis":null}}},
  {"data":{"values":[{"n":"Total"}]},"mark":{"type":"rule","color":"black","strokeWidth":2,"clip":true},"encoding":{"y":{"field":"n","type":"ordinal","bandPosition":1,"scale":{"type":"band","domain":[1,2,3,4,5,6,7,8,9,10,"Serie","Total"],"paddingInner":0,"paddingOuter":0},"axis":null}}}
 ]},
 {"width":230,"height":325,"layer":[
  {"data":{"values":[{"face":"backing"}]},"mark":{"type":"rect","color":"#c0c0c0"},"encoding":{"x":{"datum":-7.93,"type":"quantitative","scale":{"domain":[-8.07,8.18],"nice":false,"zero":false},"axis":null},"x2":{"datum":7.94},"y":{"datum":-11.29,"type":"quantitative","scale":{"domain":[-11.53,11.43],"nice":false,"zero":false},"axis":null},"y2":{"datum":11.33}}},
  {"data":{"name":"ringLabels"},"mark":{"type":"text","color":"white","fontSize":21,"align":"center","baseline":"middle","clip":true},"encoding":{"x":{"field":"x","type":"quantitative"},"y":{"field":"y","type":"quantitative"},"text":{"field":"label"}}},
  {"data":{"name":"shots"},"transform":[{"filter":"datum.series == 6"}],"mark":{"type":"point","shape":"circle","filled":true,"color":"#808080","opacity":1,"strokeWidth":0,"clip":true},"encoding":{"x":{"field":"x","type":"quantitative"},"y":{"field":"y","type":"quantitative"},"size":{"datum":2.25,"type":"quantitative","scale":{"type":"pow","exponent":2,"domain":[0,10],"range":[0,62902]},"legend":null}}},
  {"data":{"name":"rings"},"mark":{"type":"point","shape":"circle","filled":false,"color":"black","opacity":1,"strokeWidth":1,"clip":true},"encoding":{"x":{"datum":0},"y":{"datum":0},"size":{"field":"r","type":"quantitative","scale":{"type":"pow","exponent":2,"domain":[0,10],"range":[0,62902]},"legend":null}}},
  {"data":{"name":"shots"},"transform":[{"filter":"datum.series == 6"}],"mark":{"type":"point","shape":"circle","filled":false,"color":"black","opacity":1,"strokeWidth":1,"clip":true},"encoding":{"x":{"field":"x","type":"quantitative"},"y":{"field":"y","type":"quantitative"},"size":{"datum":2.25,"type":"quantitative","scale":{"type":"pow","exponent":2,"domain":[0,10],"range":[0,62902]},"legend":null}}},
  {"data":{"values":[{"arm":"horizontal"}]},"mark":{"type":"rule","color":"white","strokeWidth":3},"encoding":{"x":{"datum":-2.35},"x2":{"datum":2.35},"y":{"datum":0}}},
  {"data":{"values":[{"arm":"vertical"}]},"mark":{"type":"rule","color":"white","strokeWidth":3},"encoding":{"x":{"datum":0},"y":{"datum":-2.35},"y2":{"datum":2.35}}},
  {"data":{"values":[{"ring":10,"r":0.25}]},"mark":{"type":"point","shape":"circle","filled":true,"fill":"white","stroke":"black","strokeWidth":1,"opacity":1},"encoding":{"x":{"datum":0},"y":{"datum":0},"size":{"field":"r","type":"quantitative","scale":{"type":"pow","exponent":2,"domain":[0,10],"range":[0,62902]},"legend":null}}},
  {"data":{"name":"series"},"transform":[{"filter":"datum.series == 6"}],"mark":{"type":"text","align":"left","baseline":"alphabetic","fontSize":16,"clip":true},"encoding":{"x":{"datum":-8.01},"y":{"datum":10.41},"text":{"field":"title"}}},
  {"data":{"values":[{"edge":"left"}]},"mark":{"type":"rule","color":"black","strokeWidth":2,"clip":true},"encoding":{"x":{"datum":-8.07}}},
  {"data":{"values":[{"edge":"top"}]},"mark":{"type":"rule","color":"black","strokeWidth":2,"clip":true},"encoding":{"y":{"datum":11.43}}},
  {"data":{"values":[{"edge":"bottom"}]},"mark":{"type":"rule","color":"black","strokeWidth":2,"clip":true},"encoding":{"y":{"datum":-11.53}}}
 ]},
 {"width":138,"height":325,"layer":[
  {"data":{"name":"shots"},"transform":[{"filter":"datum.series == 6"}],"mark":{"type":"text","align":"right","baseline":"middle","fontSize":15,"clip":true,"text":{"expr":"datum.n + ':'"}},"encoding":{"x":{"datum":0.336,"type":"quantitative","scale":{"domain":[0,1],"nice":false},"axis":null},"y":{"field":"n","type":"ordinal","scale":{"type":"band","domain":[1,2,3,4,5,6,7,8,9,10,"Serie","Total"],"paddingInner":0,"paddingOuter":0},"axis":null}}},
  {"data":{"name":"shots"},"transform":[{"filter":"datum.series == 6"}],"mark":{"type":"text","align":"left","baseline":"middle","fontSize":15,"clip":true,"text":{"expr":"(datum.score < 10 ? '\u00a0' : '') + format(datum.score, '.1f') + (datum.score >= 10.2 ? 'x' : '')"}},"encoding":{"x":{"datum":0.502,"type":"quantitative","scale":{"domain":[0,1],"nice":false},"axis":null},"y":{"field":"n","type":"ordinal","scale":{"type":"band","domain":[1,2,3,4,5,6,7,8,9,10,"Serie","Total"],"paddingInner":0,"paddingOuter":0},"axis":null}}},
  {"data":{"name":"shots"},"transform":[{"filter":"datum.series == 6"}],"mark":{"type":"text","text":"→","font":"Noto Sans CJK JP","align":"center","baseline":"middle","fontSize":22,"clip":true},"encoding":{"x":{"datum":0.89,"type":"quantitative","scale":{"domain":[0,1],"nice":false},"axis":null},"y":{"field":"n","type":"ordinal","scale":{"type":"band","domain":[1,2,3,4,5,6,7,8,9,10,"Serie","Total"],"paddingInner":0,"paddingOuter":0},"axis":null},"angle":{"field":"dir","type":"quantitative","scale":{"domain":[0,360],"range":[360,0]},"legend":null}}},
  {"data":{"name":"totals"},"transform":[{"filter":"datum.series == 6"}],"mark":{"type":"text","align":"left","baseline":"middle","fontSize":15,"clip":true},"encoding":{"x":{"datum":0.016,"type":"quantitative","scale":{"domain":[0,1],"nice":false},"axis":null},"y":{"field":"row","type":"ordinal","scale":{"type":"band","domain":[1,2,3,4,5,6,7,8,9,10,"Serie","Total"],"paddingInner":0,"paddingOuter":0},"axis":null},"text":{"field":"row"}}},
  {"data":{"name":"totals"},"transform":[{"filter":"datum.series == 6"}],"mark":{"type":"text","align":"right","baseline":"middle","fontSize":15,"clip":true},"encoding":{"x":{"datum":0.977,"type":"quantitative","scale":{"domain":[0,1],"nice":false},"axis":null},"y":{"field":"row","type":"ordinal","scale":{"type":"band","domain":[1,2,3,4,5,6,7,8,9,10,"Serie","Total"],"paddingInner":0,"paddingOuter":0},"axis":null},"text":{"field":"value","format":".1f"}}},
  {"data":{"name":"totals"},"transform":[{"filter":"datum.series == 6"}],"mark":{"type":"rule","color":"black","strokeWidth":1,"clip":true},"encoding":{"y":{"field":"row","type":"ordinal","bandPosition":0,"scale":{"type":"band","domain":[1,2,3,4,5,6,7,8,9,10,"Serie","Total"],"paddingInner":0,"paddingOuter":0},"axis":null}}},
  {"data":{"values":[{"edge":"left"}]},"mark":{"type":"rule","color":"black","strokeWidth":2,"clip":true},"encoding":{"x":{"datum":0,"type":"quantitative","scale":{"domain":[0,1],"nice":false},"axis":null}}},
  {"data":{"values":[{"edge":"right"}]},"mark":{"type":"rule","color":"black","strokeWidth":2,"clip":true},"encoding":{"x":{"datum":1,"type":"quantitative","scale":{"domain":[0,1],"nice":false},"axis":null}}},
  {"data":{"values":[{"n":1}]},"mark":{"type":"rule","color":"black","strokeWidth":2,"clip":true},"encoding":{"y":{"field":"n","type":"ordinal","bandPosition":0,"scale":{"type":"band","domain":[1,2,3,4,5,6,7,8,9,10,"Serie","Total"],"paddingInner":0,"paddingOuter":0},"axis":null}}},
  {"data":{"values":[{"n":"Total"}]},"mark":{"type":"rule","color":"black","strokeWidth":2,"clip":true},"encoding":{"y":{"field":"n","type":"ordinal","bandPosition":1,"scale":{"type":"band","domain":[1,2,3,4,5,6,7,8,9,10,"Serie","Total"],"paddingInner":0,"paddingOuter":0},"axis":null}}}
 ]}
],"spacing":0,"bounds":"flush"},
{"width":737,"height":20,"data":{"values":[{"site":"http://www.megalink.no","program":"MLRes ISSF 10m Gevär","stamp":"17:14 - 06.01.2024"}]},"layer":[
 {"mark":{"type":"text","align":"left","baseline":"alphabetic","fontSize":10.5,"clip":true},"encoding":{"x":{"datum":0,"type":"quantitative","scale":{"domain":[0,1],"nice":false},"axis":null},"y":{"datum":0.65,"type":"quantitative","scale":{"domain":[0,1],"nice":false,"reverse":true},"axis":null},"text":{"field":"site"}}},
 {"mark":{"type":"text","align":"center","baseline":"alphabetic","fontSize":10.5,"clip":true},"encoding":{"x":{"datum":0.495,"type":"quantitative","scale":{"domain":[0,1],"nice":false},"axis":null},"y":{"datum":0.65,"type":"quantitative","scale":{"domain":[0,1],"nice":false,"reverse":true},"axis":null},"text":{"field":"program"}}},
 {"mark":{"type":"text","align":"right","baseline":"alphabetic","fontSize":10.5,"clip":true},"encoding":{"x":{"datum":1,"type":"quantitative","scale":{"domain":[0,1],"nice":false},"axis":null},"y":{"datum":0.65,"type":"quantitative","scale":{"domain":[0,1],"nice":false,"reverse":true},"axis":null},"text":{"field":"stamp"}}}
]}
]
}
